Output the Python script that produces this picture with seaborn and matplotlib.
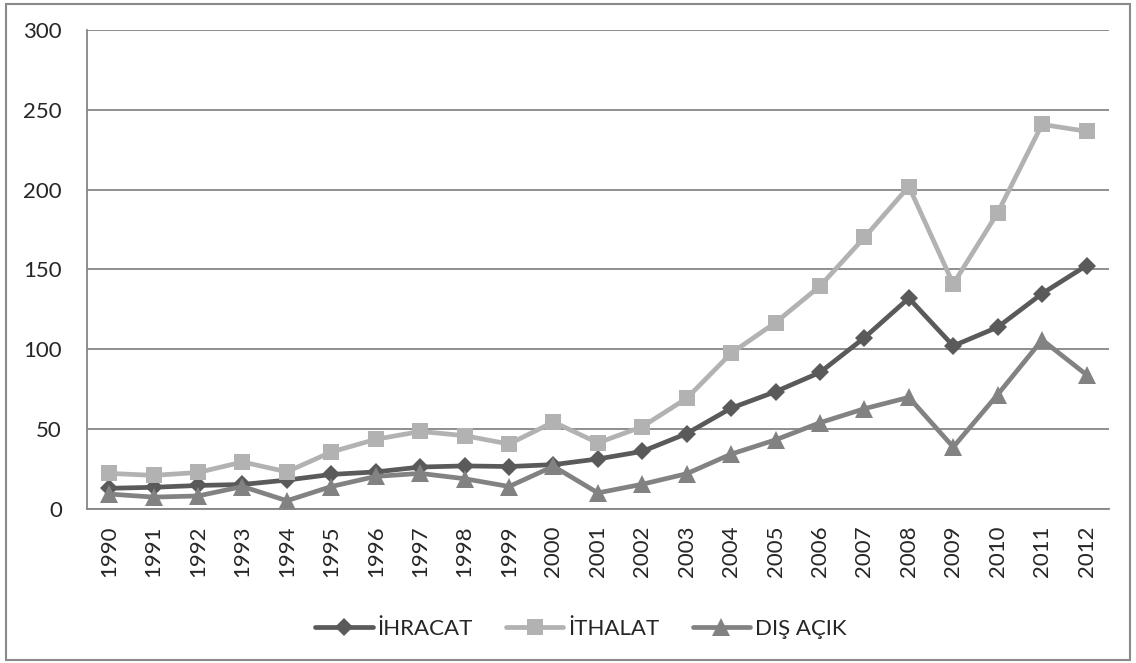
import matplotlib.pyplot as plt
import pandas as pd
import seaborn as sns
from matplotlib.patches import Rectangle

years = [str(y) for y in range(1990, 2013)]
ihracat = [12.96, 13.59, 14.72, 15.35, 18.11, 21.64, 23.22, 26.26, 26.97, 26.59, 27.78, 31.33,
           36.06, 47.25, 63.17, 73.48, 85.53, 107.27, 132.03, 102.14, 113.88, 134.91, 152.46]
ithalat = [22.30, 21.05, 22.87, 29.43, 23.27, 35.71, 43.63, 48.56, 45.92, 40.67, 54.50, 41.40,
           51.55, 69.34, 97.54, 116.77, 139.58, 170.06, 201.96, 140.93, 185.54, 240.84, 236.55]
dis_acik = [9.34, 7.45, 8.16, 14.08, 5.16, 14.07, 20.40, 22.30, 18.95, 14.08, 26.73, 10.07,
            15.50, 22.09, 34.37, 43.30, 54.04, 62.79, 69.94, 38.79, 71.66, 105.93, 84.08]
series_names = ["İHRACAT", "İTHALAT", "DIŞ AÇIK"]

df = pd.DataFrame({"Yıl": years * 3,
                   "Değer": ihracat + ithalat + dis_acik,
                   "Seri": [s for s in series_names for _ in years]})

sns.set_style("white")
plt.rcParams['font.family'] = ['Lato', 'DejaVu Sans']

fig = plt.figure(figsize=(11.36, 6.63), dpi=100)
ax = fig.add_axes([0.0766, 0.2323, 0.8994, 0.7225])

colors = {"İHRACAT": "#5a5a5a", "İTHALAT": "#b2b2b2", "DIŞ AÇIK": "#828282"}
markers = {"İHRACAT": "D", "İTHALAT": "s", "DIŞ AÇIK": "^"}
sizes = {"İHRACAT": 9.5, "İTHALAT": 12, "DIŞ AÇIK": 12.5}

for name in series_names:
    sub = df[df["Seri"] == name]
    sns.lineplot(data=sub, x="Yıl", y="Değer", ax=ax, color=colors[name], marker=markers[name],
                 markersize=sizes[name], markeredgewidth=0, linewidth=3.4, label=name, sort=False)

ax.set_ylim(0, 300)
ax.set_xlim(-0.5, len(years) - 0.5)
ax.set_yticks(range(0, 301, 50))
ax.yaxis.grid(True, color="#868686", linewidth=1.3)
ax.set_axisbelow(True)
ax.set_xlabel("")
ax.set_ylabel("")
for side in ["top", "right"]:
    ax.spines[side].set_visible(False)
for side in ["left", "bottom"]:
    ax.spines[side].set_color("#868686")
    ax.spines[side].set_linewidth(1.3)
ax.tick_params(axis="x", labelrotation=90, labelsize=16, length=0, pad=12)
ax.tick_params(axis="y", labelsize=16, length=0, pad=18)

ax.legend(loc="center", bbox_to_anchor=(0.483, -0.25), ncol=3, frameon=False, fontsize=16,
          handlelength=2.6, columnspacing=1.5, handletextpad=0.2)

fig.patches.append(Rectangle((0.005, 0.004), 0.99, 0.99, transform=fig.transFigure,
                             fill=False, edgecolor="#8a8a8a", linewidth=1.5))

fig.savefig("out.png", dpi=100)
